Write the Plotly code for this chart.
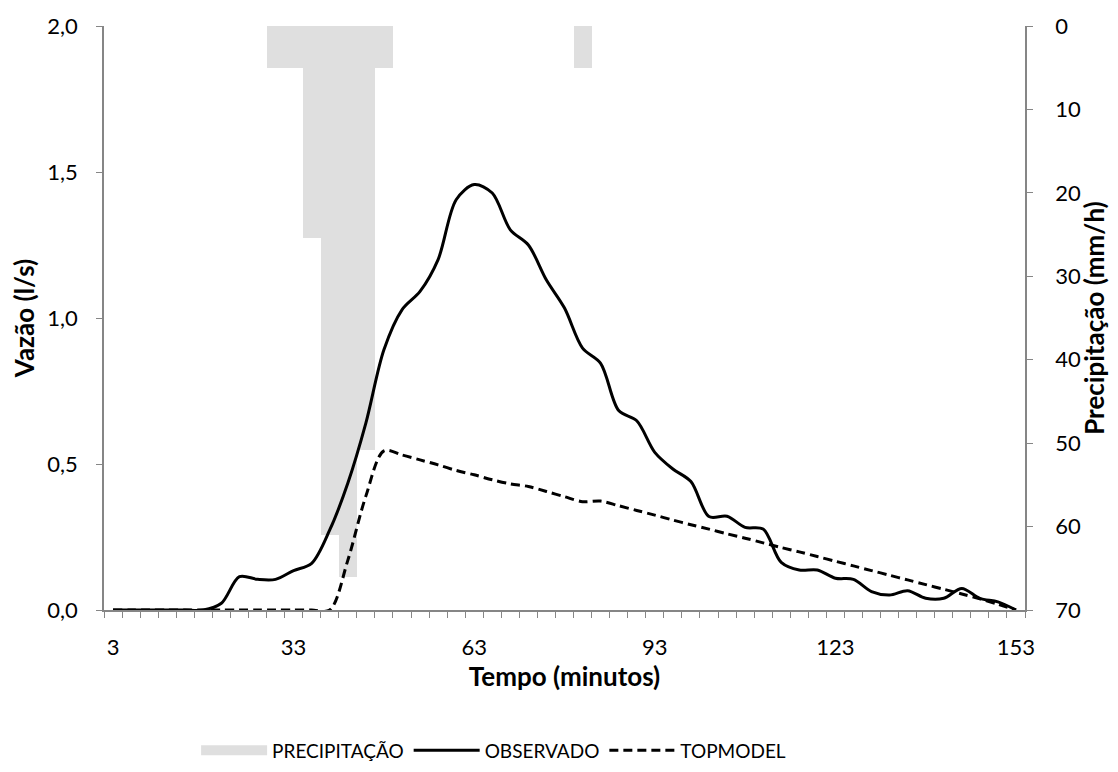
"""Hidrograma: vazão observada x TOPMODEL, com precipitação invertida no topo."""
import plotly.graph_objects as go

# Tempo (minutos), uma categoria a cada 3 min
TEMPO = [3, 6, 9, 12, 15, 18, 21, 24, 27, 30, 33, 36, 39, 42, 45, 48, 51,
         54, 57, 60, 63, 66, 69, 72, 75, 78, 81, 84, 87, 90, 93, 96, 99,
         102, 105, 108, 111, 114, 117, 120, 123, 126, 129, 132, 135, 138,
         141, 144, 147, 150, 153]

OBSERVADO = [0.0, 0.0, 0.0, 0.0, 0.0, 0.0, 0.023, 0.114, 0.105, 0.105,
             0.135, 0.16, 0.274, 0.434, 0.64, 0.891, 1.028, 1.091, 1.2,
             1.405, 1.457, 1.428, 1.302, 1.25, 1.13, 1.034, 0.897, 0.845,
             0.683, 0.648, 0.54, 0.483, 0.44, 0.32, 0.321, 0.283, 0.277,
             0.163, 0.137, 0.137, 0.109, 0.105, 0.063, 0.051, 0.066, 0.04,
             0.04, 0.074, 0.04, 0.028, 0.0]

TOPMODEL = [0.0, 0.0, 0.0, 0.0, 0.0, 0.0, 0.0, 0.0, 0.0, 0.0, 0.0, 0.0,
            0.0, 0.17, 0.39, 0.545, 0.531, 0.514, 0.497, 0.478, 0.463,
            0.446, 0.432, 0.423, 0.406, 0.388, 0.371, 0.373, 0.357, 0.341,
            0.325, 0.308, 0.292, 0.277, 0.261, 0.246, 0.23, 0.214, 0.199,
            0.183, 0.167, 0.151, 0.135, 0.119, 0.103, 0.087, 0.071, 0.055,
            0.038, 0.02, 0.0]

PRECIP_TEMPO = [30, 33, 36, 39, 42, 45, 48, 81]
PRECIPITACAO = [5.08, 5.08, 25.4, 60.96, 66.04, 50.8, 5.08, 5.08]  # mm/h

X_TICKS = [3, 33, 63, 93, 123, 153]

FONT = "Lato, 'Open Sans', sans-serif"
AXIS_GRAY = "#868686"
BAR_GRAY = "#dfdfdf"

fig = go.Figure()

# precipitação no eixo principal (camada de baixo), vazões no eixo sobreposto
fig.add_trace(go.Bar(
    name="PRECIPITAÇÃO", x=PRECIP_TEMPO, y=PRECIPITACAO,
    marker=dict(color=BAR_GRAY, line=dict(width=0)),
    width=3, yaxis="y", showlegend=False,
))
# entrada de legenda larga, como no Excel
fig.add_trace(go.Scatter(
    name="PRECIPITAÇÃO", x=[None], y=[None], mode="lines",
    line=dict(color=BAR_GRAY, width=15), yaxis="y",
))
fig.add_trace(go.Scatter(
    name="OBSERVADO", x=TEMPO, y=OBSERVADO, mode="lines",
    line=dict(color="black", width=3, shape="spline", smoothing=0.9),
    yaxis="y2",
))
fig.add_trace(go.Scatter(
    name="TOPMODEL", x=TEMPO, y=TOPMODEL, mode="lines",
    line=dict(color="black", width=3, dash="9px,5px", shape="spline",
              smoothing=0.9),
    yaxis="y2",
))

# o body da página tem 8 px de margem: figura 16 px menor para não rolar
fig.update_layout(
    width=1102, height=756,
    margin=dict(l=96, r=85, t=18, b=154, autoexpand=False),
    paper_bgcolor="white", plot_bgcolor="white",
    font=dict(family=FONT, size=22, color="black"),
    separators=",.",
    bargap=0,
    showlegend=True,
    legend=dict(orientation="h", x=0.1, xanchor="left", y=-0.208,
                yanchor="top", font=dict(size=19), itemwidth=66,
                traceorder="normal"),
    hovermode=False,
    xaxis=dict(
        range=[1.5, 154.5], tickmode="array", tickvals=X_TICKS,
        ticks="", showgrid=False, zeroline=False,
        showline=True, linecolor=AXIS_GRAY, linewidth=1.5,
        minor=dict(ticks="outside", tick0=1.5, dtick=3, ticklen=6,
                   tickcolor=AXIS_GRAY, showgrid=False),
        title=dict(text="<b>Tempo (minutos)</b>", standoff=6),
        ticklabelstandoff=17, automargin=False,
    ),
    yaxis=dict(
        side="right", range=[70, 0], tickvals=[0, 10, 20, 30, 40, 50, 60, 70],
        ticks="outside", ticklen=6, tickcolor=AXIS_GRAY,
        showline=True, linecolor=AXIS_GRAY, linewidth=1.5,
        showgrid=False, zeroline=False, ticklabelstandoff=18,
        title=dict(text="<b>Precipitação (mm/h)</b>", standoff=16),
        automargin=False,
    ),
    yaxis2=dict(
        overlaying="y", side="left", range=[0, 2], dtick=0.5,
        tickformat=".1f", ticks="outside", ticklen=6, tickcolor=AXIS_GRAY,
        showline=True, linecolor=AXIS_GRAY, linewidth=1.5,
        showgrid=False, zeroline=False, ticklabelstandoff=14,
        title=dict(text="<b>Vazão (l/s)</b>", standoff=24),
        automargin=False,
    ),
)

fig.write_html("out.html")
